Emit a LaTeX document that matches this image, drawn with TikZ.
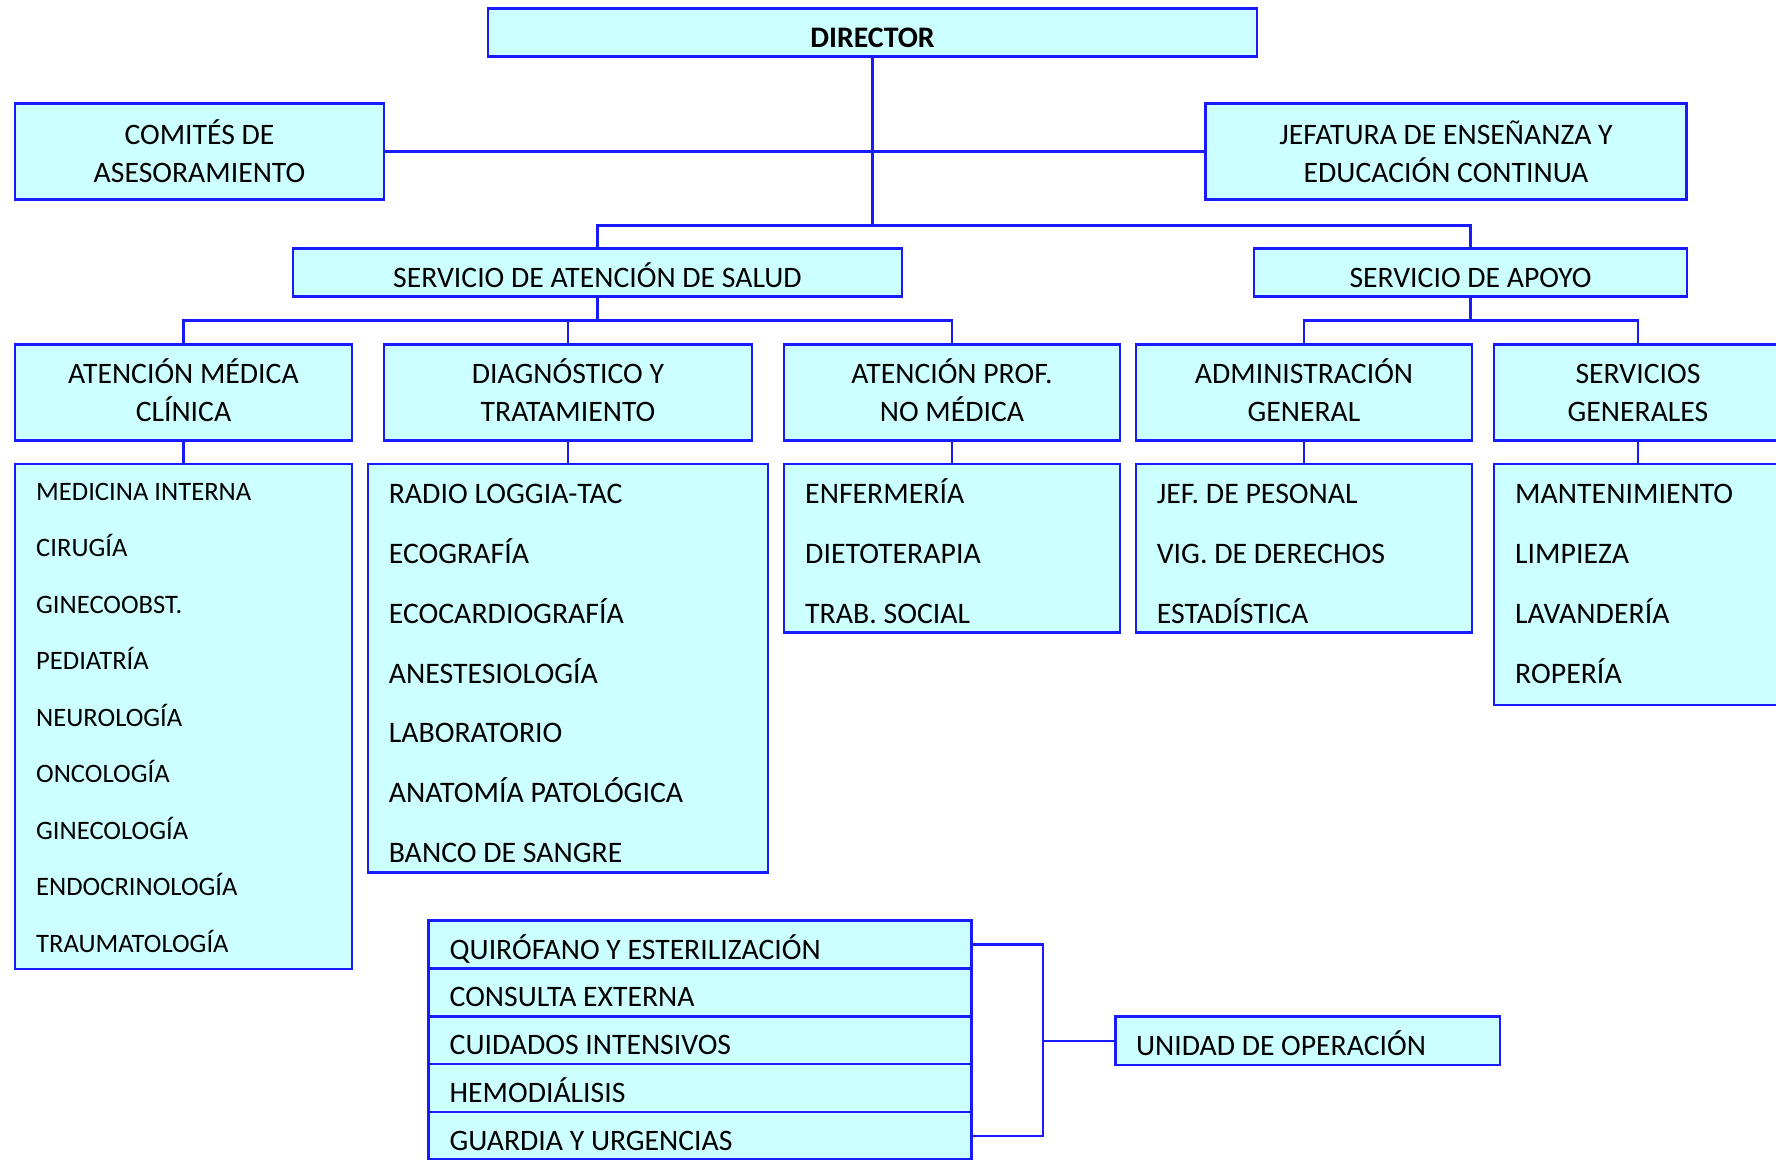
\documentclass[tikz,border=0pt]{standalone}
\usepackage{fontspec}
\setmainfont{Carlito}
\definecolor{bdr}{RGB}{26,26,255}
\definecolor{cel}{RGB}{204,255,255}
\newcommand{\dn}{\rule[-4pt]{0pt}{4pt}}
\begin{document}
\begin{tikzpicture}[x=1pt,y=-1pt,
  box/.style={draw=bdr,fill=cel,line width=2.6pt,inner sep=0pt,text=black,font=\fontsize{29.7}{38}\selectfont},
  one/.style={box,text height=29pt,text depth=0pt},
  two/.style={box,align=center},
  lst/.style={box},
  itm/.style={inner sep=0pt,anchor=base west,font=\fontsize{29.8}{38}\selectfont},
  itmmed/.style={itm,font=\fontsize{26.6}{34}\selectfont},
  conn/.style={draw=bdr,line width=2.3pt},
  row/.style={box,text height=29pt,text depth=0pt,text width=500.6pt,align=left,inner xsep=21.4pt,minimum width=543.4pt,minimum height=47.8pt}]

\useasboundingbox (0,0) rectangle (1776,1159);
\clip (0,0) rectangle (1776,1159);

% top levels
\node[one,minimum width=769pt,minimum height=48.5pt,font=\fontsize{29.8}{38}\selectfont\bfseries] (dir) at (872.5,32.5) {DIRECTOR};
\node[two,minimum width=369pt,minimum height=96.5pt] (com) at (199.5,151.5) {COMITÉS DE\\ASESORAMIENTO};
\node[two,minimum width=481pt,minimum height=96.5pt] (jef) at (1446,151.5) {JEFATURA DE ENSEÑANZA Y\\EDUCACIÓN CONTINUA};
\node[one,minimum width=609pt,minimum height=48.5pt] (sas) at (597.5,272.5) {SERVICIO DE ATENCIÓN DE SALUD};
\node[one,minimum width=433pt,minimum height=48.5pt] (sap) at (1470.5,272.5) {SERVICIO DE APOYO};

% level 3
\node[two,minimum width=337pt,minimum height=96.5pt] (amc) at (183.5,392.5) {ATENCIÓN MÉDICA\\CLÍNICA\dn};
\node[two,minimum width=368pt,minimum height=96.5pt] (dyt) at (568,392.5) {DIAGNÓSTICO Y\\TRATAMIENTO\dn};
\node[two,minimum width=336pt,minimum height=96.5pt] (apn) at (952,392.5) {ATENCIÓN PROF.\\NO MÉDICA\dn};
\node[two,minimum width=336pt,minimum height=96.5pt] (adg) at (1304,392.5) {ADMINISTRACIÓN\\GENERAL\dn};
\node[two,minimum width=288pt,minimum height=96.5pt] (sgn) at (1638,392.5) {\vphantom{É}SERVICIOS\\GENERALES\dn};

% lists
\node[lst,minimum width=337pt,minimum height=505pt] (lmed) at (183.5,716.5) {};
\node[lst,minimum width=400pt,minimum height=408.7pt] (ldyt) at (568,668.3) {};
\node[lst,minimum width=336pt,minimum height=168.7pt] (lapn) at (952,548.3) {};
\node[lst,minimum width=336pt,minimum height=168.7pt] (ladg) at (1304,548.3) {};
\node[lst,minimum width=288pt,minimum height=241pt] (lsgn) at (1638,584.5) {};

\foreach \txt [count=\i] in {MEDICINA INTERNA,CIRUGÍA,GINECOOBST.,PEDIATRÍA,NEUROLOGÍA,ONCOLOGÍA,GINECOLOGÍA,ENDOCRINOLOGÍA,TRAUMATOLOGÍA}
  \node[itmmed] (med\i) at (36,500.3+56.5*\i-56.5) {\txt};
\foreach \txt [count=\i] in {RADIO LOGGIA-TAC,ECOGRAFÍA,ECOCARDIOGRAFÍA,ANESTESIOLOGÍA,LABORATORIO,ANATOMÍA PATOLÓGICA,BANCO DE SANGRE}
  \node[itm] (dia\i) at (388.6,503.6+59.8*\i-59.8) {\txt};
\foreach \txt [count=\i] in {ENFERMERÍA,DIETOTERAPIA,TRAB. SOCIAL}
  \node[itm] (pro\i) at (805,503.6+59.8*\i-59.8) {\txt};
\foreach \txt [count=\i] in {JEF. DE PESONAL,VIG. DE DERECHOS,ESTADÍSTICA}
  \node[itm] (adm\i) at (1156.6,503.6+59.8*\i-59.8) {\txt};
\foreach \txt [count=\i] in {MANTENIMIENTO,LIMPIEZA,LAVANDERÍA,ROPERÍA}
  \node[itm] (ser\i) at (1515,503.6+59.8*\i-59.8) {\txt};

% bottom group
\foreach \txt [count=\i] in {QUIRÓFANO Y ESTERILIZACIÓN,CONSULTA EXTERNA,CUIDADOS INTENSIVOS,HEMODIÁLISIS,GUARDIA Y URGENCIAS}
  \node[row] (r\i) at (700,944.6+47.8*\i-47.8) {\spaceskip=0pt\relax\txt};
\node[box,text height=29pt,text depth=0pt,text width=343.6pt,align=left,inner xsep=20.4pt,minimum width=384.4pt,minimum height=48.3pt] (uni) at (1307.8,1040.8) {\spaceskip=0pt\relax UNIDAD DE OPERACIÓN};

% connectors
\coordinate (b1) at (872.5,225.5);
\draw[conn] (dir.south) -- (b1);
\draw[conn] (com.east) -- (jef.west);
\draw[conn] (sas.north) |- (b1) -| (sap.north);
\coordinate (b2) at (597.5,320.5);
\draw[conn] (sas.south) -- (b2);
\draw[conn] (amc.north) |- (b2) -| (apn.north);
\draw[conn] (dyt.north) -- (dyt.north |- b2);
\coordinate (b3) at (1470.5,320.5);
\draw[conn] (sap.south) -- (b3);
\draw[conn] (adg.north) |- (b3) -| (sgn.north);
\draw[conn] (amc.south) -- (lmed.north);
\draw[conn] (dyt.south) -- (ldyt.north);
\draw[conn] (apn.south) -- (lapn.north);
\draw[conn] (adg.south) -- (ladg.north);
\draw[conn] (sgn.south) -- (lsgn.north);

\coordinate (br) at (1042.8,1040.8);
\draw[conn] (r1.east) -| (br |- r5.east) -- (r5.east);
\draw[conn] (br) -- (uni.west);
\end{tikzpicture}
\end{document}
